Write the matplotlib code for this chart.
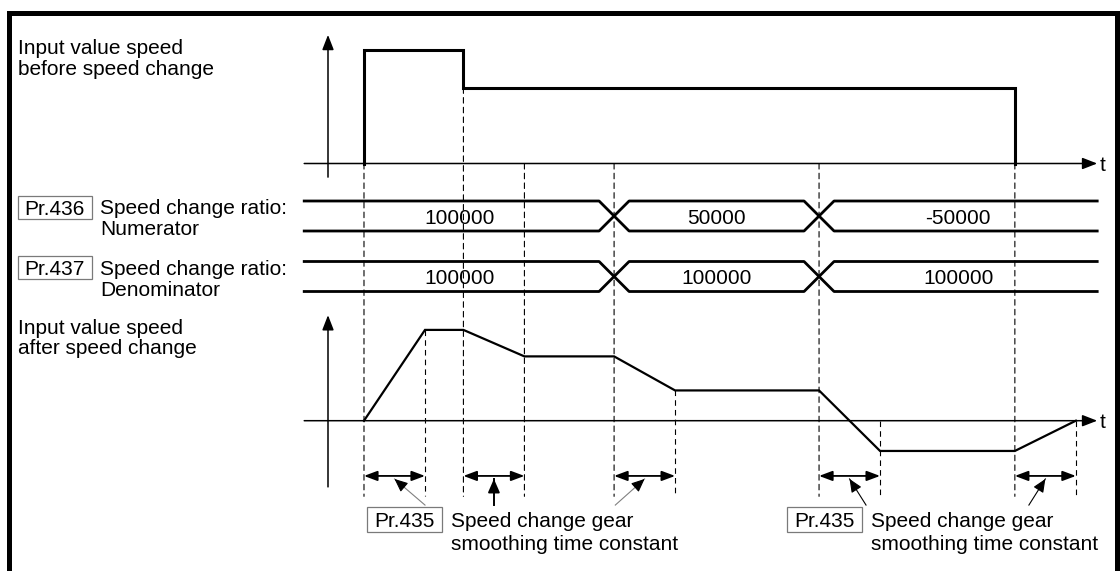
import numpy as np
import matplotlib
matplotlib.use('Agg')
import matplotlib.pyplot as plt
from matplotlib.patches import Rectangle, ConnectionPatch

plt.rcParams['font.family'] = ['Liberation Sans', 'DejaVu Sans']
plt.rcParams['lines.scale_dashes'] = False

# --- data (time in smoothing-constant units, speed in arbitrary units)
cmd_times = [0.59, 2.22, 11.26]          # start, speed command change, stop
cmd_speed = [3.0, 2.0]                   # input value speed before speed change
ratio_times = [4.69, 8.05]               # instants when Pr.436 / Pr.437 change
numerator = ['100000', '50000', '-50000']
denominator = ['100000', '100000', '100000']
out_times = [0.59, 1.59, 2.22, 3.22, 4.69, 5.69, 8.05, 9.05, 11.26, 12.26]
out_speed = [0, 2.4, 2.4, 1.7, 1.7, 0.8, 0.8, -0.8, -0.8, 0]
smooth_T = 1.0

full_guides = [0.59, 2.22, 3.22, 4.69, 8.05, 11.26]
full_guide_start = [0, 2.0, 0, 0, 0, 0]
lower_guides = [1.59, 5.69, 9.05, 12.26]

# --- layout (pixels)
W, H = 1120, 571
PX_T0, PX_PER_T, PX_PER_V = 328, 61.0, 37.83
FS = 15
T_AXIS = (-0.39, 12.61)
DASH_END = -2.0
DIM_V = -1.46

fig = plt.figure(figsize=(W / 100, H / 100), dpi=100)


def make_axes(px_top, px_bottom):
    ax = fig.add_axes([0, 1 - px_bottom / H, 1, (px_bottom - px_top) / H])
    ax.set_xlim(-PX_T0 / PX_PER_T, (W - PX_T0) / PX_PER_T)
    ax.axis('off')
    return ax


ax_top = make_axes(0, 190)
ax_top.set_ylim((163.5 - 190) / PX_PER_V, 163.5 / PX_PER_V)
ax_mid = make_axes(190, 300)
ax_mid.set_ylim((300 - 216) / 60.5, (190 - 216) / 60.5)
ax_bot = make_axes(300, H)
ax_bot.set_ylim((420.7 - H) / PX_PER_V, (420.7 - 300) / PX_PER_V)


def axis_arrow(ax, xy0, xy1, lw=1.1):
    ax.annotate('', xy=xy1, xytext=xy0, annotation_clip=False,
                arrowprops=dict(arrowstyle='-|>,head_length=0.9,head_width=0.35',
                                mutation_scale=10, lw=lw, color='k',
                                shrinkA=0, shrinkB=0))


# axes of both speed charts
axis_arrow(ax_top, (T_AXIS[0], 0), (T_AXIS[1], 0))
axis_arrow(ax_top, (0, -0.36), (0, 3.40))
axis_arrow(ax_bot, (T_AXIS[0], 0), (T_AXIS[1], 0))
axis_arrow(ax_bot, (0, -1.75), (0, 2.79))

# input value speed before speed change
xs = np.repeat(cmd_times, 2)
ys = np.concatenate([[0], np.repeat(cmd_speed, 2), [0]])
ax_top.plot(xs, ys, color='k', lw=2.2, solid_joinstyle='miter')

# input value speed after speed change
ax_bot.plot(out_times, out_speed, color='k', lw=1.6, solid_joinstyle='miter')

# timing bars for Pr.436 / Pr.437
h = 15 / 60.5
dx = 15 / PX_PER_T
for row, vals in enumerate([numerator, denominator]):
    top, bot = row - h, row + h
    ux, uy, lx, ly = [T_AXIS[0]], [top], [T_AXIS[0]], [bot]
    a, b = top, bot
    for c in ratio_times:
        ux += [c - dx, c + dx]
        uy += [a, b]
        lx += [c - dx, c + dx]
        ly += [b, a]
        a, b = b, a
    ux.append(T_AXIS[1]); uy.append(a)
    lx.append(T_AXIS[1]); ly.append(b)
    ax_mid.plot(ux, uy, color='k', lw=2.0, clip_on=False)
    ax_mid.plot(lx, ly, color='k', lw=2.0, clip_on=False)
    bounds = [T_AXIS[0]] + ratio_times + [T_AXIS[1]]
    for i, s in enumerate(vals):
        ax_mid.text((bounds[i] + bounds[i + 1]) / 2, row, s, fontsize=FS,
                    ha='center', va='center_baseline')

# dashed guide lines
dash = (0, (4, 3))
for t, v0 in zip(full_guides, full_guide_start):
    fig.add_artist(ConnectionPatch(xyA=(t, v0), coordsA=ax_top.transData,
                                   xyB=(t, DASH_END), coordsB=ax_bot.transData,
                                   arrowstyle='-', linestyle=dash, lw=0.8, color='k'))
for t in lower_guides:
    v0 = max(np.interp(t, out_times, out_speed), 0)
    ax_bot.plot([t, t], [v0, DASH_END], color='k', lw=0.8, linestyle=dash)

# smoothing time dimension arrows
starts = out_times[0::2]
for t in starts:
    ax_bot.annotate('', xy=(t + smooth_T, DIM_V), xytext=(t, DIM_V),
                    arrowprops=dict(arrowstyle='<|-|>,head_length=0.8,head_width=0.3',
                                    mutation_scale=10, lw=1.3, color='k',
                                    shrinkA=0, shrinkB=0))

# leaders from the Pr.435 labels
tail_dx = [0.5, 0, -0.48, 0.27, -0.27]
lead_col = ['#808080', 'k', '#808080', 'k', 'k']
lead_lw = [0.8, 1.4, 0.8, 0.8, 0.8]
tip_v, tail_v = -1.54, -2.23
for t, d, c, lw in zip(starts, tail_dx, lead_col, lead_lw):
    tip = (t + smooth_T / 2, tip_v)
    tail = (tip[0] + d, tail_v)
    ax_bot.plot([tail[0], tip[0]], [tail[1], tip[1]], color=c, lw=lw, clip_on=False)
    p = (tip[0] + 0.3 * (tail[0] - tip[0]), tip[1] + 0.3 * (tail[1] - tip[1]))
    ax_bot.annotate('', xy=tip, xytext=p,
                    arrowprops=dict(arrowstyle='-|>,head_length=0.8,head_width=0.35',
                                    mutation_scale=10, lw=lw, color='k',
                                    shrinkA=0, shrinkB=0))


# --- text and boxes (figure pixels)
def label(x, y, s, **kw):
    fig.text(x / W, 1 - y / H, s, fontsize=FS, va='center_baseline', **kw)


def box(x0, y0, x1, y1, s):
    fig.add_artist(Rectangle((x0 / W, 1 - y1 / H), (x1 - x0) / W, (y1 - y0) / H,
                             transform=fig.transFigure, fill=False,
                             ec='#7a7a7a', lw=0.9))
    label((x0 + x1) / 2, (y0 + y1) / 2, s, ha='center')


label(18, 47, 'Input value speed')
label(18, 67.5, 'before speed change')
label(18, 326, 'Input value speed')
label(18, 347, 'after speed change')

box(17.5, 195.5, 92, 219, 'Pr.436')
label(100, 207, 'Speed change ratio:')
label(100, 227.5, 'Numerator')
box(17.5, 255.5, 92, 279, 'Pr.437')
label(100, 267.5, 'Speed change ratio:')
label(100, 288, 'Denominator')

for bx, tx in [(367, 451), (787, 871)]:
    box(bx, 506.5, bx + 75, 532, 'Pr.435')
    label(tx, 519.5, 'Speed change gear')
    label(tx, 542, 'smoothing time constant')

label(1100, 163.5, 't')
label(1100, 420.7, 't')

# outer frame (bottom edge runs off the picture)
fig.add_artist(Rectangle((8.5 / W, 1 - 600 / H), (1117 - 8.5) / W, (600 - 12.5) / H,
                         transform=fig.transFigure, fill=False, ec='k', lw=3.6))

fig.savefig('out.png', dpi=100)
